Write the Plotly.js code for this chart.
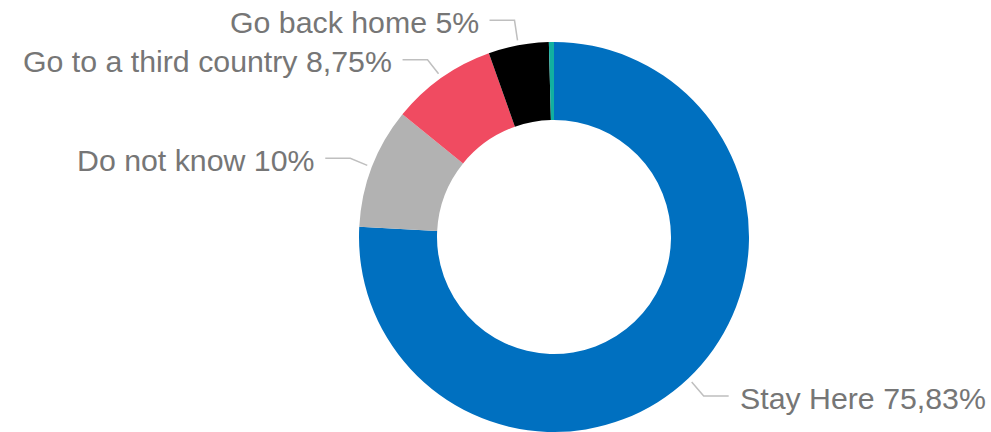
<!DOCTYPE html>
<html>
<head>
<meta charset="utf-8">
<script src="https://cdn.plot.ly/plotly-3.0.1.min.js"></script>
<style>html,body{margin:0;padding:0;background:#fff;}#chart{width:991px;height:432px;}</style>
</head>
<body>
<div id="chart"></div>
<script>
// ---- data ----
const categories = ["Stay Here", "Do not know", "Go to a third country", "Go back home", "Other"];
const values = [75.83, 10, 8.75, 5, 0.42];
const showLabel = [true, true, true, true, false];

// ---- styles / layout config ----
const colors = ["#0070C0", "#B2B2B2", "#F04B61", "#000000", "#12B0A0"];
const W = 991, H = 432;
const R = 195;               // outer radius px
const CX = 554, CY = 237;    // pie centre px
// elbow offsets (px) from leader start, per slice (label placement)
const elbowOffsets = [[12, 14], [-17, -7], [-11, -14], [-3, -20], null];
const hLen = 25, textGap = 9, startGap = 5, textDy = 2;

const fmt = v => String(v).replace('.', ',') + '%';

const total = values.reduce((a, b) => a + b, 0);
const shapes = [], annotations = [];
let cum = 0;
values.forEach((v, i) => {
  const mid = (cum + v / 2) / total;
  cum += v;
  if (!showLabel[i] || !elbowOffsets[i]) return;
  const th = mid * 2 * Math.PI;
  const px = CX + (R + startGap) * Math.sin(th);
  const py = CY - (R + startGap) * Math.cos(th);
  const ex = px + elbowOffsets[i][0], ey = py + elbowOffsets[i][1];
  const right = Math.sin(th) > 0;
  const hx = right ? ex + hLen : ex - hLen;
  const X = x => x / W, Y = y => 1 - y / H;
  shapes.push({
    type: 'path', xref: 'paper', yref: 'paper',
    path: `M ${X(px)} ${Y(py)} L ${X(ex)} ${Y(ey)} L ${X(hx)} ${Y(ey)}`,
    line: {color: '#BFBFBF', width: 1.5}
  });
  annotations.push({
    xref: 'paper', yref: 'paper',
    x: X(right ? hx + textGap : hx - textGap), y: Y(ey + textDy),
    xanchor: right ? 'left' : 'right', yanchor: 'middle',
    text: categories[i] + ' ' + fmt(v),
    showarrow: false,
    font: {family: 'Liberation Sans, Arial, sans-serif', size: 30.3, color: '#767676'}
  });
});

const trace = {
  type: 'pie',
  labels: categories,
  values: values,
  sort: false,
  direction: 'clockwise',
  rotation: 0,
  hole: 0.6,
  textinfo: 'none',
  hoverinfo: 'label+value',
  marker: {colors: colors, line: {width: 0}},
  domain: {x: [(CX - R) / W, (CX + R) / W], y: [0, (2 * R) / H]},
  showlegend: false
};

const layout = {
  width: W, height: H,
  margin: {l: 0, r: 0, t: 0, b: 0},
  paper_bgcolor: '#ffffff',
  plot_bgcolor: '#ffffff',
  showlegend: false,
  shapes: shapes,
  annotations: annotations
};

Plotly.newPlot('chart', [trace], layout, {displayModeBar: false, staticPlot: true});
</script>
</body>
</html>
